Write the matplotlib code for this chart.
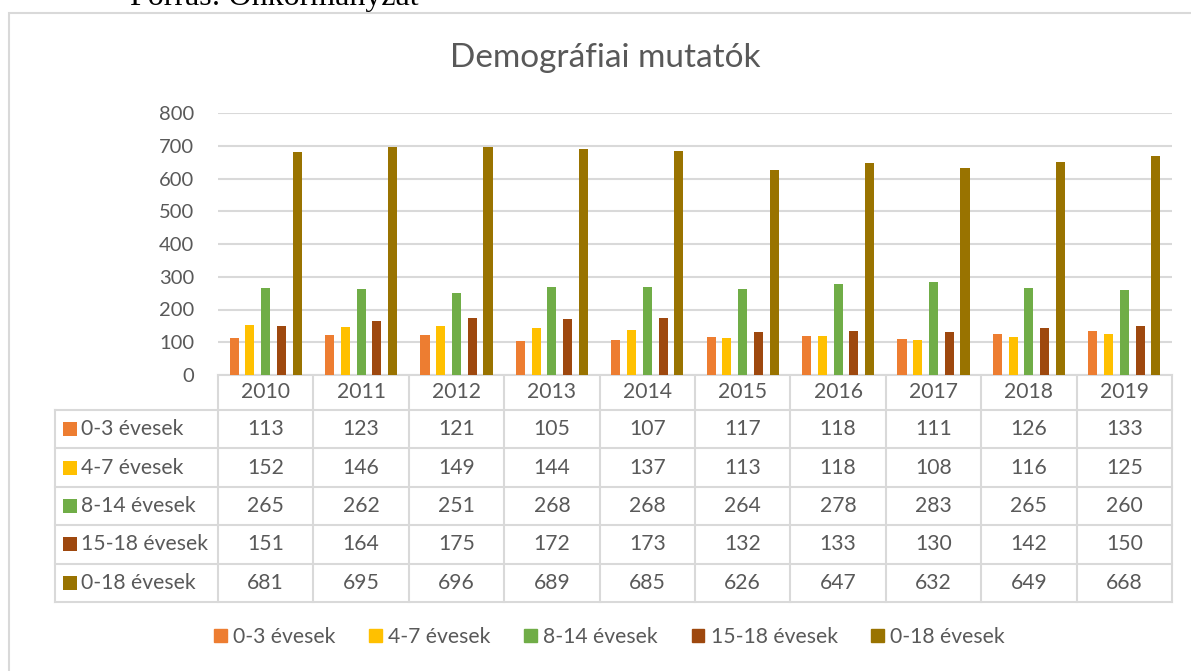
import numpy as np
import matplotlib.pyplot as plt
from matplotlib.patches import Patch, Rectangle

years = ['2010', '2011', '2012', '2013', '2014', '2015', '2016', '2017', '2018', '2019']
series_names = ['0-3 évesek', '4-7 évesek', '8-14 évesek', '15-18 évesek', '0-18 évesek']
age_0_3 = [113, 123, 121, 105, 107, 117, 118, 111, 126, 133]
age_4_7 = [152, 146, 149, 144, 137, 113, 118, 108, 116, 125]
age_8_14 = [265, 262, 251, 268, 268, 264, 278, 283, 265, 260]
age_15_18 = [151, 164, 175, 172, 173, 132, 133, 130, 142, 150]
age_0_18 = [681, 695, 696, 689, 685, 626, 647, 632, 649, 668]
colors = ['#ED7D31', '#FFC000', '#70AD47', '#9E480E', '#997300']

series = [age_0_3, age_4_7, age_8_14, age_15_18, age_0_18]

W, H = 1191, 671
TXT = '#595959'
GRID = '#D9D9D9'
FONT = 'Lato'
FS = 15.2

# layout in pixels
plot_l, plot_r = 218, 1172
plot_top, plot_bot = 113, 375
table_l = 55
head_bot = 410
table_bot = 602

fig = plt.figure(figsize=(W / 100, H / 100), dpi=100)
plt.rcParams['font.family'] = FONT

# overlay in pixel coordinates for frame, table and source text
ov = fig.add_axes([0, 0, 1, 1])
ov.set_xlim(0, W)
ov.set_ylim(H, 0)
ov.axis('off')
ov.plot([9, 9, W + 5], [H + 5, 13, 13], color=GRID, lw=1.5, solid_joinstyle='miter')

fig.text(130 / W, 1 - 4.5 / H, 'Forrás: Önkormányzat', family='Liberation Serif',
         fontsize=23, color='black', ha='left', va='baseline')

fig.text(605 / W, 1 - 58 / H, 'Demográfiai mutatók',
         fontsize=24, color=TXT, ha='center', va='center')

# bar chart
ax = fig.add_axes([plot_l / W, 1 - plot_bot / H, (plot_r - plot_l) / W, (plot_bot - plot_top) / H])
x = np.arange(len(years))
step = 0.165
for i, (vals, c) in enumerate(zip(series, colors)):
    ax.bar(x + (i - 2) * step, vals, width=0.095, color=c, zorder=3)
ax.set_xlim(-0.5, len(years) - 0.5)
ax.set_ylim(0, 800)
ax.set_yticks(range(0, 801, 100))
ax.yaxis.grid(True, color=GRID, lw=1.5, zorder=0)
ax.set_xticks([])
for s in ['top', 'right', 'left']:
    ax.spines[s].set_visible(False)
ax.spines['bottom'].set_color(GRID)
ax.spines['bottom'].set_linewidth(1.5)
ax.tick_params(axis='y', length=0, pad=17, labelsize=14.5, labelcolor=TXT)

# data table
n = len(years)
col_w = (plot_r - plot_l) / n
row_h = (table_bot - head_bot) / len(series)
lw = 1.5
# header row
for j in range(n + 1):
    xx = plot_l + j * col_w
    ov.plot([xx, xx], [plot_bot, table_bot], color=GRID, lw=lw)
for j, yr in enumerate(years):
    ov.text(plot_l + (j + 0.5) * col_w, (plot_bot + head_bot) / 2, yr,
            fontsize=FS, color=TXT, ha='center', va='center')
ov.plot([table_l, table_l], [head_bot, table_bot], color=GRID, lw=lw)
for r in range(len(series) + 1):
    yy = head_bot + r * row_h
    ov.plot([table_l, plot_r], [yy, yy], color=GRID, lw=lw)
for r, (name, vals, c) in enumerate(zip(series_names, series, colors)):
    yc = head_bot + (r + 0.5) * row_h
    ov.add_patch(Rectangle((63, yc - 7), 14, 14, color=c, lw=0))
    ov.text(81, yc, name, fontsize=FS, color=TXT, ha='left', va='center')
    for j, v in enumerate(vals):
        ov.text(plot_l + (j + 0.5) * col_w, yc, str(v), fontsize=FS,
                color=TXT, ha='center', va='center')

# legend
handles = [Patch(color=c, label=nm) for nm, c in zip(series_names, colors)]
fig.legend(handles=handles, loc='center', bbox_to_anchor=(609.5 / W, 1 - 637 / H),
           ncol=5, frameon=False, fontsize=FS, labelcolor=TXT,
           handlelength=0.6, handleheight=0.6, handletextpad=0.3, columnspacing=1.6)

fig.savefig('out.png', dpi=100)
